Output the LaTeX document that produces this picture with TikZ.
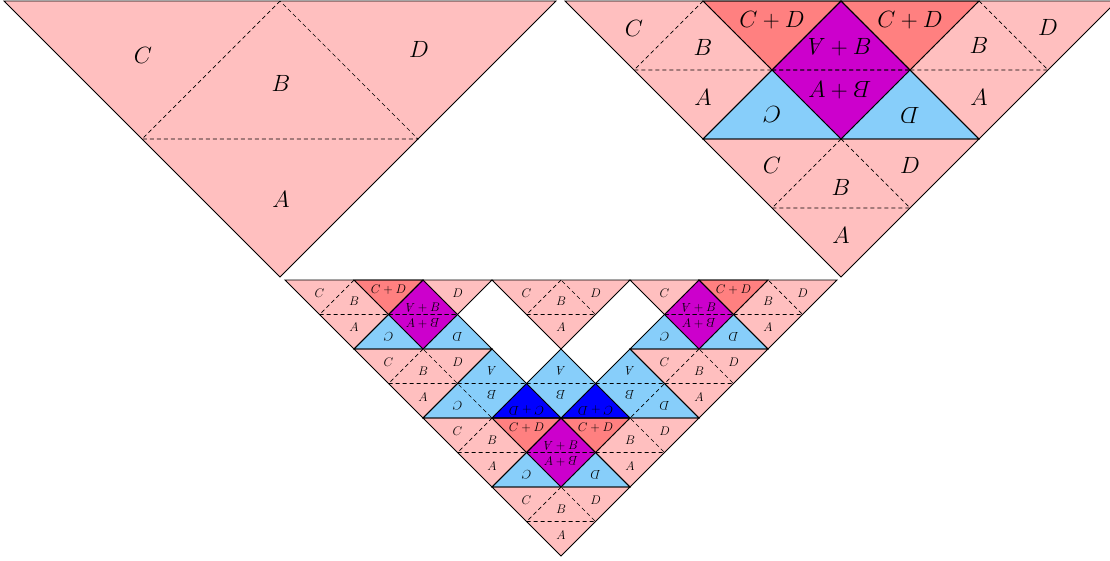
\RequirePackage{fix-cm}
\documentclass[tikz,border=0pt]{standalone}
\usepackage{graphicx}
\definecolor{pk}{RGB}{255,191,191}
\definecolor{sa}{RGB}{255,128,128}
\definecolor{lb}{RGB}{135,206,250}
\definecolor{mg}{RGB}{204,0,204}
\definecolor{db}{RGB}{0,0,255}
\tikzset{
  inner/.style={draw=black, line width=0.7pt, dash pattern=on 4pt off 3pt},
  outer/.style={draw=black, line width=0.9pt},
  big/.style={font=\fontsize{23.5}{28}\selectfont, inner sep=0pt},
  small/.style={font=\fontsize{12.5}{15}\selectfont, inner sep=0pt},
}
% upright tile: top-left corner x, y, width ; rotated tile: apex x, y, width
\newcommand\UTri[4]{\path[#4] (#1,#2) -- (#1+#3,#2) -- (#1+#3/2,#2+#3/2) -- cycle;}
\newcommand\RTri[4]{\path[#4] (#1,#2) -- (#1-#3/2,#2+#3/2) -- (#1+#3/2,#2+#3/2) -- cycle;}
\newcommand\UIn[3]{\draw[inner] (#1+#3/2,#2) -- (#1+#3/4,#2+#3/4) -- (#1+3*#3/4,#2+#3/4) -- cycle;}
\newcommand\RIn[3]{\draw[inner] (#1-#3/4,#2+#3/4) -- (#1+#3/4,#2+#3/4) -- (#1,#2+#3/2) -- cycle;}
\newcommand\Lb[5]{\node[#1] (#2) at (#3,#4) {#5};}
\newcommand\rA{\rotatebox[origin=c]{180}{$A$}}
\newcommand\rB{\rotatebox[origin=c]{180}{$B$}}
\begin{document}
\begin{tikzpicture}[x=1pt,y=-1pt]
\useasboundingbox (0,0) rectangle (1110,560);
\def\ulist{4/1/552, 565/1/276, 703/1/276, 841/1/276, 703/139/276,
  285/280/138, 354/280/138, 492/280/138, 630/280/138, 699/280/138,
  354/349/138, 630/349/138, 423/418/138, 492/418/138, 561/418/138, 492/487/138}
\def\rlist{841/1/276, 423/280/138, 699/280/138, 492/349/138, 561/349/138, 630/349/138, 561/418/138}
% fills
\foreach \x/\y/\w in \rlist {\RTri{\x}{\y}{\w}{fill=lb}}
\foreach \x/\y/\w in \ulist {\UTri{\x}{\y}{\w}{fill=pk}}
\foreach \x/\y/\h in {772/1/69, 910/1/69, 388.5/280/34.5, 733.5/280/34.5, 526.5/418/34.5, 595.5/418/34.5}
  {\fill[sa] (\x-\h,\y) -- (\x+\h,\y) -- (\x,\y+\h) -- cycle;}
\foreach \x/\y/\h in {841/1/69, 423/280/34.5, 699/280/34.5, 561/418/34.5}
  {\fill[mg] (\x,\y) -- (\x-\h,\y+\h) -- (\x,\y+2*\h) -- (\x+\h,\y+\h) -- cycle;}
\foreach \x/\y/\h in {526.5/383.5/34.5, 595.5/383.5/34.5}
  {\fill[db] (\x,\y) -- (\x-\h,\y+\h) -- (\x+\h,\y+\h) -- cycle;}
% internal dashed lines
\foreach \x/\y/\w in \ulist {\UIn{\x}{\y}{\w}}
\foreach \x/\y/\w in \rlist {\RIn{\x}{\y}{\w}}
% outlines
\foreach \x/\y/\w in \ulist {\UTri{\x}{\y}{\w}{outer}}
\foreach \x/\y/\w in \rlist {\RTri{\x}{\y}{\w}{outer}}
% top-left labels
\Lb{big}{a1}{143}{55}{$C$}
\Lb{big}{a2}{419}{49}{$D$}
\Lb{big}{a3}{281}{83}{$B$}
\Lb{big}{a4}{281}{199}{$A$}
% top-right labels
\Lb{big}{r1}{634}{28}{$C$}
\Lb{big}{r2}{703}{47}{$B$}
\Lb{big}{r3}{772}{20}{$C+D$}
\Lb{big}{r4}{840}{47}{$\rA+B$}
\Lb{big}{r5}{910}{20}{$C+D$}
\Lb{big}{r6}{979}{45}{$B$}
\Lb{big}{r7}{1048}{27}{$D$}
\Lb{big}{r8}{703}{97}{$A$}
\Lb{big,rotate=180}{r9}{772}{115}{$C$}
\Lb{big}{r10}{840}{90}{$A+\rB$}
\Lb{big,rotate=180}{r11}{910}{116}{$D$}
\Lb{big}{r12}{979}{97}{$A$}
\Lb{big}{r13}{772}{165}{$C$}
\Lb{big}{r14}{841}{187}{$B$}
\Lb{big}{r15}{910}{165}{$D$}
\Lb{big}{r16}{841}{235}{$A$}
% bottom labels
% row 0
\Lb{small}{b1}{319.5}{293.5}{$C$}
\Lb{small}{b2}{354}{301}{$B$}
\Lb{small}{b3}{388.5}{290}{$C+D$}
\Lb{small}{b4}{423}{308}{$\rA+B$}
\Lb{small}{b5}{457.5}{293.5}{$D$}
\Lb{small}{b6}{526.5}{293.5}{$C$}
\Lb{small}{b7}{561}{301}{$B$}
\Lb{small}{b8}{595.5}{293.5}{$D$}
\Lb{small}{b9}{664.5}{293.5}{$C$}
\Lb{small}{b10}{699}{308}{$\rA+B$}
\Lb{small}{b11}{733.5}{290}{$C+D$}
\Lb{small}{b12}{768}{301}{$B$}
\Lb{small}{b13}{802.5}{293.5}{$D$}
% row 1
\Lb{small}{b14}{354}{327.5}{$A$}
\Lb{small,rotate=180}{b15}{388.5}{336.5}{$C$}
\Lb{small}{b16}{423}{323.5}{$A+\rB$}
\Lb{small,rotate=180}{b17}{457.5}{336.5}{$D$}
\Lb{small}{b18}{561}{327.5}{$A$}
\Lb{small,rotate=180}{b19}{664.5}{336.5}{$C$}
\Lb{small}{b20}{699}{323.5}{$A+\rB$}
\Lb{small,rotate=180}{b21}{733.5}{336.5}{$D$}
\Lb{small}{b22}{768}{327.5}{$A$}
% row 2
\Lb{small}{b23}{388.5}{362.5}{$C$}
\Lb{small}{b24}{423}{371.5}{$B$}
\Lb{small}{b25}{457.5}{362.5}{$D$}
\Lb{small,rotate=180}{b26}{492}{371}{$A$}
\Lb{small,rotate=180}{b27}{561}{371}{$A$}
\Lb{small,rotate=180}{b28}{630}{371}{$A$}
\Lb{small}{b29}{664.5}{362.5}{$C$}
\Lb{small}{b30}{699}{371.5}{$B$}
\Lb{small}{b31}{733.5}{362.5}{$D$}
% row 3
\Lb{small}{b32}{423}{397}{$A$}
\Lb{small,rotate=180}{b33}{457.5}{405.5}{$C$}
\Lb{small,rotate=180}{b34}{492}{395}{$B$}
\Lb{small,rotate=180}{b35}{526.5}{410}{$C+D$}
\Lb{small,rotate=180}{b36}{561}{395}{$B$}
\Lb{small,rotate=180}{b37}{595.5}{410}{$C+D$}
\Lb{small,rotate=180}{b38}{630}{395}{$B$}
\Lb{small,rotate=180}{b39}{664.5}{405.5}{$D$}
\Lb{small}{b40}{699}{397}{$A$}
% row 4
\Lb{small}{b41}{457.5}{431.5}{$C$}
\Lb{small}{b42}{492}{440.5}{$B$}
\Lb{small}{b43}{526.5}{428}{$C+D$}
\Lb{small}{b44}{561}{446}{$\rA+B$}
\Lb{small}{b45}{595.5}{428}{$C+D$}
\Lb{small}{b46}{630}{440.5}{$B$}
\Lb{small}{b47}{664.5}{431.5}{$D$}
% row 5
\Lb{small}{b48}{492}{466}{$A$}
\Lb{small,rotate=180}{b49}{526.5}{474.5}{$C$}
\Lb{small}{b50}{561}{461.5}{$A+\rB$}
\Lb{small,rotate=180}{b51}{595.5}{474.5}{$D$}
\Lb{small}{b52}{630}{466}{$A$}
% rows 6-7
\Lb{small}{b53}{526.5}{500.5}{$C$}
\Lb{small}{b54}{561}{509}{$B$}
\Lb{small}{b55}{595.5}{500.5}{$D$}
\Lb{small}{b56}{561}{535}{$A$}
\end{tikzpicture}
\end{document}
